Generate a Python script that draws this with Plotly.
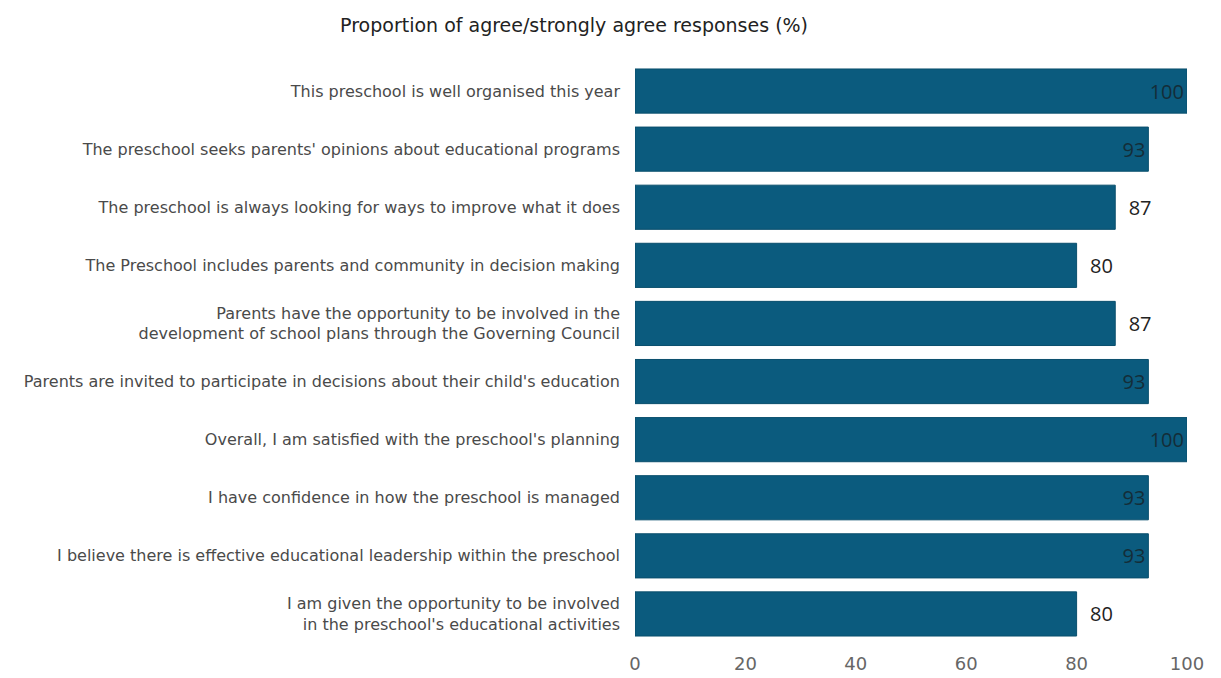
import plotly.graph_objects as go

categories = [
    "This preschool is well organised this year",
    "The preschool seeks parents' opinions about educational programs",
    "The preschool is always looking for ways to improve what it does",
    "The Preschool includes parents and community in decision making",
    "Parents have the opportunity to be involved in the<br>development of school plans through the Governing Council",
    "Parents are invited to participate in decisions about their child's education",
    "Overall, I am satisfied with the preschool's planning",
    "I have confidence in how the preschool is managed",
    "I believe there is effective educational leadership within the preschool",
    "I am given the opportunity to be involved<br>in the preschool's educational activities",
]
values = [100, 93, 87, 80, 87, 93, 100, 93, 93, 80]
x_ticks = [0, 20, 40, 60, 80, 100]

positions = ["inside" if v >= 90 else "outside" for v in values]
labels = [str(v) if v >= 90 else "\u00a0\u00a0" + str(v) for v in values]
text_colors = ["#142d38" if v >= 90 else "#222222" for v in values]

fig = go.Figure(go.Bar(
    x=values,
    y=categories,
    orientation="h",
    marker=dict(color="#0b5b7e", line=dict(color="#0a4f6d", width=1)),
    text=labels,
    textposition=positions,
    insidetextanchor="end",
    textfont=dict(color=text_colors, size=20, family="Open Sans"),
    outsidetextfont=dict(color="#222222", size=20, family="Open Sans"),
    cliponaxis=False,
))

fig.update_layout(
    width=1221, height=678,
    margin=dict(l=627, r=42, t=54, b=43),
    paper_bgcolor="white", plot_bgcolor="white",
    bargap=0.24,
    showlegend=False,
    title=dict(text="Proportion of agree/strongly agree responses (%)",
               x=0.4636, xanchor="center", y=0.975, yanchor="middle",
               font=dict(family="DejaVu Sans", size=19, color="#222222")),
    xaxis=dict(range=[0, 100], tickvals=x_ticks, showgrid=False, zeroline=False,
               showline=False, ticks="", automargin=False, ticklabelstandoff=8,
               tickfont=dict(family="DejaVu Sans", size=18, color="#666666")),
    yaxis=dict(autorange="reversed", showgrid=False, showline=False, ticks="",
               ticklabelstandoff=14, automargin=False,
               tickfont=dict(family="DejaVu Sans", size=16, color="#4a4a4a")),
)

fig.write_html("out.html")
